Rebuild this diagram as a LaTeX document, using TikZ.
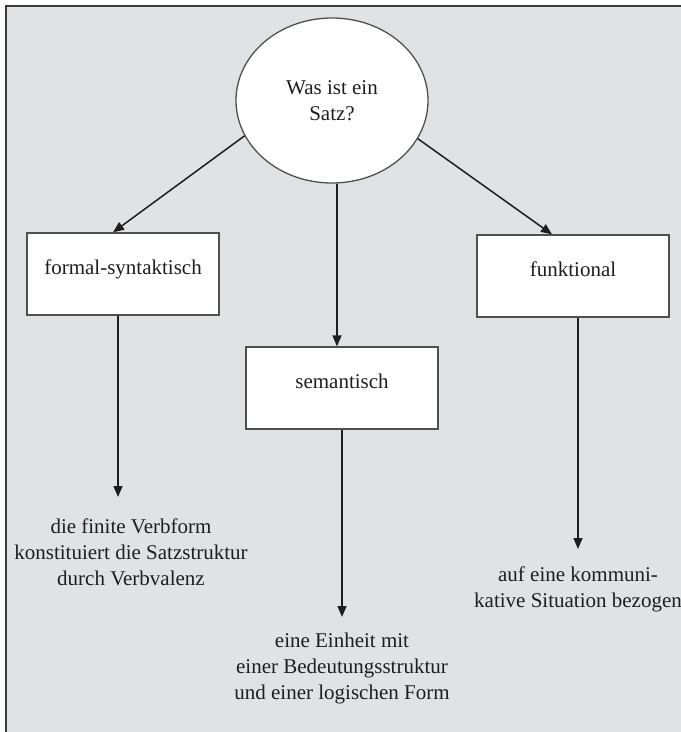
\documentclass[tikz,border=0pt]{standalone}
\usepackage{fontspec}
\setmainfont{Liberation Serif}
\usetikzlibrary{shapes.geometric,arrows.meta,calc}
\definecolor{bggray}{HTML}{E1E2E4}
\definecolor{edgegray}{HTML}{505050}
\definecolor{framegray}{HTML}{3A3A3A}
\definecolor{ink}{HTML}{1E1E1E}
\begin{document}
\begin{tikzpicture}[x=1bp,y=-1bp,
  txt/.style={font=\fontsize{21bp}{26bp}\selectfont, text=ink, align=center, inner sep=0pt},
  box/.style={draw=edgegray, line width=1.3bp, fill=white, minimum width=192bp, minimum height=82bp, inner sep=0pt, text height=15bp, text depth=15bp, font=\fontsize{21bp}{26bp}\selectfont, text=ink},
  bubble/.style={ellipse, draw=edgegray, line width=1.3bp, fill=white, minimum width=192bp, minimum height=165bp, inner sep=0pt, font=\fontsize{21bp}{26bp}\selectfont, text=ink, align=center},
  conn/.style={draw=ink, line width=1.5bp, -{Triangle[length=11bp,width=9bp]}},
  ]
\useasboundingbox (0,0) rectangle (681,732);
\begin{scope}
\clip (0,0) rectangle (681,732);
\fill[bggray] (6,6) rectangle (690,740);
\draw[framegray, line width=1.6bp] (6,740) -- (6,6) -- (690,6);
\end{scope}

\node[bubble] (q) at (332,100.5) {Was ist ein\\Satz?};
\node[box] (fs) at (123,274) {formal-syntaktisch};
\node[box] (sem) at (342,388) {semantisch};
\node[box] (fun) at (573,276) {funktional};

\node[txt] (t1) at (131,552) {die finite Verbform\\konstituiert die Satzstruktur\\durch Verbvalenz};
\node[txt] (t2) at (342,668) {eine Einheit mit\\einer Bedeutungsstruktur\\und einer logischen Form};
\node[txt] (t3) at (578,589) {auf eine kommuni-\\kative Situation bezogen};

\coordinate (m) at (337,0);
\coordinate (e1) at (118,497);
\coordinate (e2) at (342,617);
\coordinate (e3) at (578,549);

\draw[conn] (q.202) -- ($(fs.north)+(-10,0)$);
\draw[conn] (q.south -| m) -- (sem.north -| m);
\draw[conn] (q.336) -- ($(fun.north)+(-21,0)$);

\draw[conn] (fs.south -| e1) -- (e1);
\draw[conn] (sem.south -| e2) -- (e2);
\draw[conn] (fun.south -| e3) -- (e3);
\end{tikzpicture}
\end{document}
